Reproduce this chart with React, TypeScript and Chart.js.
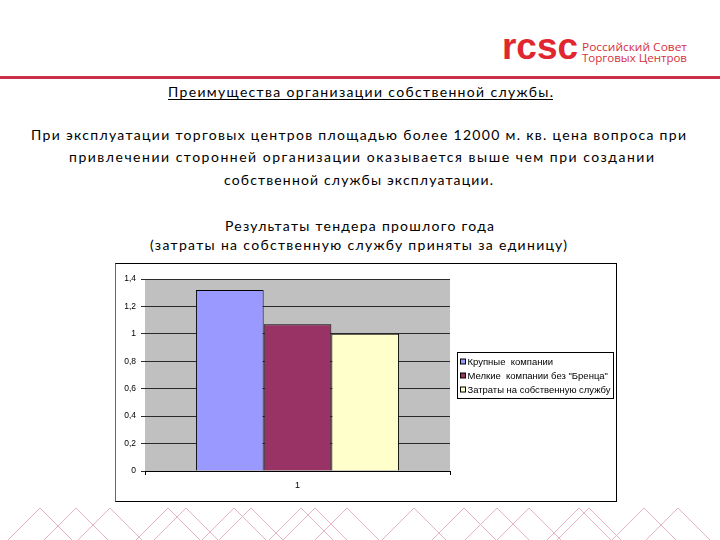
import React, { useEffect, useRef } from "react";
import { Chart, registerables } from "chart.js";

Chart.register(...registerables);

const categories = ["1"];
const seriesLabels = [
  "Крупные  компании",
  'Мелкие  компании без "Бренца"',
  "Затраты на собственную службу",
];
const largeCompanies = [1.32];
const smallCompanies = [1.07];
const ownService = [1.0];
const seriesColors = ["#9999ff", "#993366", "#ffffcc"];
const yTickLabels = ["0", "0,2", "0,4", "0,6", "0,8", "1", "1,2", "1,4"];

const FONT = "'Liberation Sans', Arial, sans-serif";

const plotBg = {
  id: "plotBg",
  beforeDraw(chart: any) {
    const { ctx, chartArea } = chart;
    ctx.save();
    ctx.fillStyle = "#c0c0c0";
    ctx.fillRect(chartArea.left, chartArea.top, chartArea.right - chartArea.left, chartArea.bottom - chartArea.top);
    ctx.restore();
  },
};

const boxedLegend = {
  id: "boxedLegend",
  afterDraw(chart: any) {
    const { ctx, chartArea } = chart;
    const x0 = chartArea.right + 7.5;
    const yMid = (chartArea.top + chartArea.bottom) / 2;
    const w = 156;
    const h = 46;
    const y0 = Math.round(yMid - 23) + 0.5;
    ctx.save();
    ctx.fillStyle = "#ffffff";
    ctx.fillRect(x0, y0, w, h);
    ctx.strokeStyle = "#000000";
    ctx.lineWidth = 1;
    ctx.strokeRect(x0, y0, w, h);
    ctx.font = `9.5px ${FONT}`;
    ctx.textBaseline = "middle";
    chart.data.datasets.forEach((ds: any, i: number) => {
      const cy = y0 + 9.5 + i * 14;
      ctx.fillStyle = ds.backgroundColor;
      ctx.fillRect(x0 + 3, cy - 3, 5, 5);
      ctx.strokeStyle = "#000";
      ctx.strokeRect(x0 + 3, cy - 3, 5, 5);
      ctx.fillStyle = "#000";
      const tw = ctx.measureText(ds.label).width;
      const maxW = w - 13;
      if (tw > maxW) {
        ctx.save();
        ctx.translate(x0 + 10, cy);
        ctx.scale(maxW / tw, 1);
        ctx.fillText(ds.label, 0, 0);
        ctx.restore();
      } else {
        ctx.fillText(ds.label, x0 + 10, cy);
      }
    });
    ctx.restore();
  },
};

function BarChart() {
  const ref = useRef<HTMLCanvasElement | null>(null);
  useEffect(() => {
    if (!ref.current) return;
    const values = [largeCompanies, smallCompanies, ownService];
    const chart = new Chart(ref.current, {
      type: "bar",
      data: {
        labels: categories,
        datasets: values.map((v, i) => ({
          label: seriesLabels[i],
          data: v,
          backgroundColor: seriesColors[i],
          borderColor: "#000000",
          borderWidth: 1,
          categoryPercentage: 0.666,
          barPercentage: 1,
        })),
      },
      options: {
        responsive: false,
        animation: false,
        devicePixelRatio: 1,
        layout: { padding: { left: 0, right: 166, top: 15, bottom: 0 } },
        plugins: {
          legend: { display: false },
          tooltip: { enabled: false },
        },
        scales: {
          x: {
            afterFit: (s: any) => {
              s.height = 30;
            },
            grid: {
              display: true,
              drawOnChartArea: false,
              drawTicks: true,
              tickLength: 4,
              color: "#000000",
              offset: true,
            },
            border: { display: true, color: "#000000" },
            ticks: { color: "#000", font: { family: FONT, size: 9 }, padding: 5 },
          },
          y: {
            min: 0,
            max: 1.4,
            afterFit: (s: any) => {
              s.width = 29;
            },
            ticks: {
              stepSize: 0.2,
              color: "#000",
              font: { family: FONT, size: 8.5 },
              padding: 5,
              callback: (_v: any, i: number) => yTickLabels[i],
            },
            grid: { color: "#2a2a2a", tickLength: 4, drawTicks: true },
            border: { display: false },
          },
        },
      },
      plugins: [plotBg, boxedLegend],
    });
    return () => chart.destroy();
  }, []);
  return <canvas ref={ref} width={500} height={237} style={{ display: "block", width: 500, height: 237 }} />;
}

const peaks = [40, 76, 110, 168, 186, 234, 251, 301, 315, 347, 414, 464, 497, 529, 579, 589, 644, 678];

export default function App() {
  const textFont = "Lato, 'Open Sans', sans-serif";
  return (
    <div
      style={{
        position: "fixed",
        left: 0,
        top: 0,
        width: 720,
        height: 540,
        background: "#ffffff",
        overflow: "hidden",
      }}
    >
      <svg width={720} height={540} style={{ position: "absolute", left: 0, top: 0 }}>
        <g stroke="#e6b4c4" strokeWidth={1} fill="none">
          {peaks.map((p, i) => (
            <polyline key={i} points={`${p - 36},544 ${p},508 ${p + 36},544`} />
          ))}
        </g>
        <rect x={0} y={76} width={720} height={3} fill="#c9304a" />
        <text
          x={502}
          y={59}
          fontFamily="'Liberation Sans', Arial, sans-serif"
          fontWeight="bold"
          fontSize={36}
          fill="#e0262f"
          textLength={76}
          lengthAdjust="spacingAndGlyphs"
        >
          rcsc
        </text>
        <text x={582} y={51} fontFamily="'Open Sans', sans-serif" fontSize={11} fill="#d8303c" textLength={105} lengthAdjust="spacingAndGlyphs">
          Российский Совет
        </text>
        <text x={582} y={62} fontFamily="'Open Sans', sans-serif" fontSize={11} fill="#d8303c" textLength={105} lengthAdjust="spacingAndGlyphs">
          Торговых Центров
        </text>
        <g fontFamily={textFont} fontSize={14} fill="#000">
          <text x={168} y={97} textLength={385} lengthAdjust="spacing">
            Преимущества организации собственной службы.
          </text>
          <line x1={168} x2={553} y1={99.5} y2={99.5} stroke="#000" strokeWidth={1} />
          <text x={31} y={140} textLength={655} lengthAdjust="spacing">
            При эксплуатации торговых центров площадью более 12000 м. кв. цена  вопроса при
          </text>
          <text x={69} y={162} textLength={585} lengthAdjust="spacing">
            привлечении сторонней организации оказывается выше чем при создании
          </text>
          <text x={224} y={185} textLength={269} lengthAdjust="spacing">
            собственной службы эксплуатации.
          </text>
          <text x={225} y={231} textLength={269} lengthAdjust="spacing">
            Результаты тендера прошлого года
          </text>
          <text x={150} y={250} textLength={417} lengthAdjust="spacing">
            (затраты на собственную службу приняты за единицу)
          </text>
        </g>
      </svg>
      <div
        style={{
          position: "absolute",
          left: 115,
          top: 263,
          width: 502,
          height: 239,
          boxSizing: "border-box",
          border: "1px solid #000",
          borderLeft: "1px solid #666",
          background: "#fff",
        }}
      >
        <BarChart />
      </div>
    </div>
  );
}
